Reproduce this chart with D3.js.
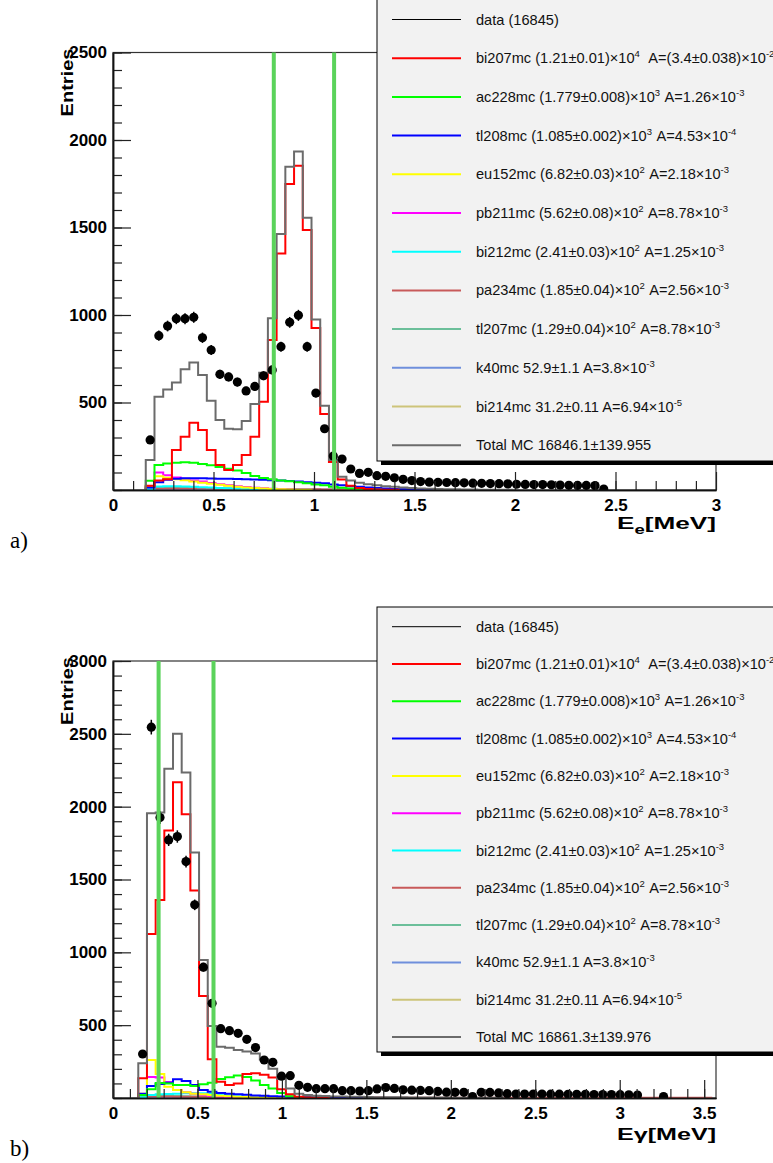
<!DOCTYPE html>
<html>
<head>
<meta charset="utf-8">
<script src="https://cdn.jsdelivr.net/npm/d3@7"></script>
<style>
  body { margin: 0; background: #fff; }
  svg { display: block; }
</style>
</head>
<body>
<svg id="chart" width="773" height="1163"></svg>
<script>
// ---- data ----
// binning of the two spectra (MeV)
var topEdge0 = 0.163, topBinW = 0.0434
var botEdge0 = 0.1497, botBinW = 0.0514

var seriesNames = ['bi207mc', 'ac228mc', 'tl208mc', 'eu152mc', 'pb211mc', 'bi212mc', 'pa234mc', 'tl207mc', 'k40mc', 'bi214mc']

var legendLabels = [
  'bi207mc (1.21±0.01)×10^4  A=(3.4±0.038)×10^-2',
  'ac228mc (1.779±0.008)×10^3 A=1.26×10^-3',
  'tl208mc (1.085±0.002)×10^3 A=4.53×10^-4',
  'eu152mc (6.82±0.03)×10^2 A=2.18×10^-3',
  'pb211mc (5.62±0.08)×10^2 A=8.78×10^-3',
  'bi212mc (2.41±0.03)×10^2 A=1.25×10^-3',
  'pa234mc (1.85±0.04)×10^2 A=2.56×10^-3',
  'tl207mc (1.29±0.04)×10^2 A=8.78×10^-3',
  'k40mc 52.9±1.1 A=3.8×10^-3',
  'bi214mc 31.2±0.11 A=6.94×10^-5'
]

// electron energy spectrum (a)
var topData = [286, 882, 937, 979, 979, 987, 870, 800, 661, 646, 617, 566, 592, 653, 686, 819, 958, 998, 819, 554, 350, 194, 177, 120, 95, 101, 82, 78, 70, 61, 54, 48, 45, 44, 43, 42, 41, 39, 38, 37, 36, 35, 33, 32, 31, 31, 30, 28, 27, 26, 26, 25, 5]
var topTotal = [171, 533, 575, 615, 690, 728, 657, 510, 400, 350, 347, 394, 491, 670, 981, 1463, 1847, 1935, 1556, 975, 482, 171, 76, 55, 42, 33, 27, 22, 18, 14, 11, 9, 7, 6, 5, 4, 3, 3, 2, 2, 1, 1]
var topBi207 = [25, 55, 62, 229, 305, 385, 343, 229, 143, 114, 143, 200, 305, 505, 857, 1352, 1749, 1853, 1486, 926, 434, 160, 60, 25, 12, 6, 3, 2, 1]
var topAc228 = [53, 143, 152, 156, 158, 156, 149, 141, 131, 122, 112, 97, 80, 68, 61, 55, 50, 44, 38, 32, 27, 19, 13, 8, 5, 3, 1]
var topTl208 = [15, 45, 58, 64, 67, 67, 67, 66, 65, 64, 63, 62, 60, 58, 56, 54, 51, 48, 45, 42, 38, 32, 27, 22, 18, 14, 11, 8, 6, 4, 3, 2, 1]
var topEu152 = [20, 78, 70, 62, 56, 48, 42, 36, 30, 24, 19, 15, 11, 8, 6, 4, 3, 2, 1]
var topPb211 = [20, 100, 85, 72, 65, 55, 48, 40, 33, 27, 22, 17, 13, 10, 7, 5, 3, 2, 1]
var topBi212 = [5, 20, 22, 22, 20, 18, 16, 14, 12, 10, 8, 7, 6, 5, 4, 3, 2, 2, 1]
var topPa234 = [3, 8, 9, 9, 9, 8, 8, 8, 7, 7, 7, 6, 6, 6, 5, 5, 5, 4, 4, 4, 3, 3, 3, 2, 2, 2, 2, 1, 1, 1]
var topTl207 = [5, 15, 15, 14, 13, 12, 11, 10, 9, 8, 7, 6, 5, 4, 3, 3, 2, 2, 1, 1]
var topK40 = [1, 4, 4, 4, 4, 4, 4, 4, 4, 4, 3, 3, 3, 3, 3, 3, 3, 3, 3, 3, 3, 3, 3, 2, 2, 2, 2, 2, 1, 1]
var topBi214 = [1, 2, 2, 2, 2, 2, 2, 2, 2, 2, 2, 2, 1, 1, 1, 1, 1, 1]

// gamma energy spectrum (b)
var botData = [302, 2546, 1925, 1772, 1795, 1623, 1326, 898, 650, 476, 462, 444, 403, 346, 261, 245, 150, 153, 87, 73, 64, 64, 64, 50, 50, 48, 50, 62, 72, 66, 56, 54, 52, 50, 45, 40, 39, 39, 10, 39, 38, 35, 30, 27, 27, 27, 27, 26, 26, 25, 25, 25, 24, 24, 24, 23, 22, 20, null, null, 10]
var botTotal = [238, 1955, 1960, 2260, 2500, 2234, 1685, 948, 494, 352, 345, 330, 320, 305, 265, 200, 130, 65, 30, 20, 16, 13, 11, 10, 9, 8, 7, 6, 6, 5, 5, 4, 4, 3, 3, 3, 2, 2, 2, 2, 1, 1]
var botBi207 = [135, 1126, 1360, 1836, 2168, 1948, 1424, 700, 266, 112, 89, 100, 165, 170, 160, 140, 60, 25, 8, 4, 2, 1]
var botAc228 = [20, 60, 103, 100, 89, 89, 82, 95, 105, 131, 143, 155, 145, 120, 90, 65, 35, 12, 4, 2, 1]
var botTl208 = [30, 82, 96, 105, 128, 117, 89, 55, 43, 35, 30, 25, 22, 18, 15, 12, 10, 8, 6, 5, 4, 3, 2, 2, 1, 1]
var botEu152 = [30, 261, 165, 78, 55, 40, 30, 25, 20, 15, 12, 9, 7, 5, 3, 2, 1]
var botPb211 = [20, 145, 140, 110, 55, 40, 30, 22, 15, 10, 6, 4, 2, 1]
var botBi212 = [5, 20, 25, 28, 30, 32, 33, 33, 30, 25, 18, 12, 8, 5, 3, 2, 1]
var botPa234 = [4, 10, 10, 10, 9, 9, 9, 8, 8, 8, 7, 7, 7, 6, 6, 6, 5, 5, 5, 4, 4, 4, 4, 3, 3, 3, 3, 3, 2, 2, 2, 2, 2, 2, 1, 1, 1, 1, 1, 1, 1, 1, 1, 1, 1, 1, 1, 1, 1, 1, 1, 1, 1, 1, 1, 1, 1, 1, 1, 1, 1, 1, 1, 1, 1, 1]
var botTl207 = [5, 18, 18, 16, 14, 12, 10, 8, 6, 5, 4, 3, 2, 1]
var botK40 = [1, 5, 5, 5, 5, 5, 5, 5, 4, 4, 4, 4, 4, 4, 4, 4, 3, 3, 3, 3, 3, 3, 3, 3, 3, 2, 2, 2, 2, 1]
var botBi214 = [1, 3, 3, 3, 3, 2, 2, 2, 2, 2, 2, 2, 1, 1, 1, 1]

var topCuts = [0.8, 1.1]
var botCuts = [0.27, 0.595]

var topYTicks = [500, 1000, 1500, 2000, 2500]
var botYTicks = [500, 1000, 1500, 2000, 2500, 3000]
var topXTicks = [0, 0.5, 1, 1.5, 2, 2.5, 3]
var botXTicks = [0, 0.5, 1, 1.5, 2, 2.5, 3, 3.5]

// ---- styles ----
var colors = ['#ff0000', '#00ff00', '#0000ff', '#ffff00', '#ff00ff', '#00ffff', '#c85a5a', '#6cbf9a', '#6f8fdc', '#cdc47a']
var totalColor = '#6b6b6b'
var cutColor = '#5bd35b'
var fontSans = '"Liberation Sans", Arial, Helvetica, sans-serif'

var svg = d3.select('#chart')

function drawPanel(p) {
    var x = d3.scaleLinear().domain([0, p.xMax]).range([113, 716])
    var y = d3.scaleLinear().domain([0, p.yMax]).range([p.bottom, p.top])
    var g = svg.append('g')

    var clipId = 'clip' + p.id
    svg.append('clipPath').attr('id', clipId)
        .append('rect').attr('x', 113).attr('y', p.top).attr('width', 603).attr('height', p.bottom - p.top)

    // frame
    g.append('rect')
        .attr('x', 113).attr('y', p.top)
        .attr('width', 603).attr('height', p.bottom - p.top)
        .attr('fill', 'none').attr('stroke', '#333').attr('stroke-width', 1.2)

    var edge = k => p.edge0 + k * p.binW
    var histLine = function(vals) {
        var pts = [[x(edge(0)), y(0)]]
        vals.forEach(function(v, k) {
            pts.push([x(edge(k)), y(v)])
            pts.push([x(edge(k + 1)), y(v)])
        })
        pts.push([x(edge(vals.length)), y(0)])
        return d3.line()(pts)
    }

    var hg = g.append('g').attr('clip-path', 'url(#' + clipId + ')')
    // small components first, bi207 last of the components
    var order = [9, 8, 7, 6, 5, 4, 3, 2, 1, 0]
    order.forEach(function(i) {
        hg.append('path')
            .attr('d', histLine(p.series[i]))
            .attr('fill', 'none')
            .attr('stroke', colors[i])
            .attr('stroke-width', 2)
    })
    hg.append('path')
        .attr('d', histLine(p.total))
        .attr('fill', 'none')
        .attr('stroke', totalColor)
        .attr('stroke-width', 2)

    // data points with sqrt(N) errors
    var pts = p.data.map((v, k) => ({k: k, v: v})).filter(d => d.v != null)
    var dg = g.append('g').attr('clip-path', 'url(#' + clipId + ')')
    dg.selectAll('line').data(pts).enter().append('line')
        .attr('x1', d => x(edge(d.k) + p.binW / 2))
        .attr('x2', d => x(edge(d.k) + p.binW / 2))
        .attr('y1', d => y(d.v + Math.sqrt(d.v)))
        .attr('y2', d => y(d.v - Math.sqrt(d.v)))
        .attr('stroke', '#000').attr('stroke-width', 1.5)
    dg.selectAll('circle').data(pts).enter().append('circle')
        .attr('cx', d => x(edge(d.k) + p.binW / 2))
        .attr('cy', d => y(d.v))
        .attr('r', 4.6)
        .attr('fill', '#000')

    // cut lines
    g.append('g').selectAll('line').data(p.cuts).enter().append('line')
        .attr('x1', d => x(d)).attr('x2', d => x(d))
        .attr('y1', p.top).attr('y2', p.bottom)
        .attr('stroke', cutColor).attr('stroke-width', 4)

    // axes, ROOT style ticks pointing inwards
    var yMinor = g.append('g').attr('transform', 'translate(113,0)')
        .call(d3.axisLeft(y).tickValues(d3.range(0, p.yMax + 1, 100)).tickSize(-9).tickSizeOuter(0).tickFormat(''))
    var yMajor = g.append('g').attr('transform', 'translate(113,0)')
        .call(d3.axisLeft(y).tickValues(p.yTicks).tickSize(-18).tickSizeOuter(0).tickPadding(6).tickFormat(d3.format('d')))
    var xMinor = g.append('g').attr('transform', `translate(0,${p.bottom})`)
        .call(d3.axisBottom(x).tickValues(d3.range(0, p.xMax, 0.1)).tickSize(-9).tickSizeOuter(0).tickFormat(''))
    var xMajor = g.append('g').attr('transform', `translate(0,${p.bottom})`)
        .call(d3.axisBottom(x).tickValues(p.xTicks).tickSize(-18).tickSizeOuter(0).tickPadding(9).tickFormat(d3.format('~g')))
    ;[yMinor, yMajor, xMinor, xMajor].forEach(function(a) {
        a.select('.domain').attr('stroke', '#111').attr('stroke-width', 1.5)
        a.selectAll('.tick line').attr('stroke', '#222').attr('stroke-width', 1.2)
        a.selectAll('text')
            .attr('font-family', fontSans)
            .attr('font-weight', 'bold')
            .attr('font-size', '17px')
            .attr('fill', '#000')
    })

    g.append('text')
        .attr('transform', `translate(73,${p.top - 4}) rotate(-90)`)
        .attr('text-anchor', 'end')
        .attr('font-family', fontSans).attr('font-weight', 'bold').attr('font-size', '16.5px')
        .attr('textLength', 68).attr('lengthAdjust', 'spacingAndGlyphs')
        .text('Entries')

    var xt = g.append('text')
        .attr('x', 716).attr('y', p.bottom + p.xTitleDy)
        .attr('text-anchor', 'end')
        .attr('font-family', fontSans).attr('font-weight', 'bold').attr('font-size', '17px')
        .attr('textLength', 99).attr('lengthAdjust', 'spacingAndGlyphs')
    xt.append('tspan').text('E')
    if (p.xSub) {
        xt.append('tspan').attr('dy', 5).attr('font-size', '12px').text(p.xSub)
        xt.append('tspan').attr('dy', -5).text('[MeV]')
    } else {
        xt.append('tspan').text(p.xSym + '[MeV]')
    }

    g.append('text')
        .attr('x', 10).attr('y', p.bottom + 58)
        .attr('font-family', '"Liberation Serif", "Times New Roman", serif')
        .attr('font-size', '23px')
        .text(p.tag)

    // legend
    var lg = g.append('g')
    lg.append('rect')
        .attr('x', 381).attr('y', p.legTop + 4).attr('width', 420).attr('height', p.legBottom - p.legTop)
        .attr('fill', '#000')
    lg.append('rect')
        .attr('x', 377).attr('y', p.legTop).attr('width', 420).attr('height', p.legBottom - p.legTop)
        .attr('fill', '#f2f2f2').attr('stroke', '#000').attr('stroke-width', 1)

    var entries = [{label: 'data (16845)', color: '#000', w: 1}]
    legendLabels.forEach((l, i) => entries.push({label: l, color: colors[i], w: 2}))
    entries.push({label: p.totalLabel, color: totalColor, w: 2})

    entries.forEach(function(e, i) {
        var cy = p.legRow0 + i * p.legStep
        lg.append('line')
            .attr('x1', 392).attr('x2', 461).attr('y1', cy).attr('y2', cy)
            .attr('stroke', e.color).attr('stroke-width', e.w)
        var t = lg.append('text')
            .attr('x', 476).attr('y', cy + 5)
            .style('white-space', 'pre')
            .attr('font-family', fontSans).attr('font-size', '14.6px').attr('fill', '#111')
        var parts = e.label.split(/\^(-?\d+)/)
        parts.forEach(function(s, j) {
            if (j % 2 === 0) {
                if (s.length) t.append('tspan').text(s)
            } else {
                t.append('tspan').attr('dy', -6).attr('font-size', '9.5px').text(s)
                t.append('tspan').attr('dy', 6).text('\u200a')
            }
        })
    })
}

drawPanel({
    id: 'a', top: 52.5, bottom: 490, xMax: 3.0, yMax: 2500,
    edge0: topEdge0, binW: topBinW,
    data: topData, total: topTotal,
    series: [topBi207, topAc228, topTl208, topEu152, topPb211, topBi212, topPa234, topTl207, topK40, topBi214],
    cuts: topCuts, yTicks: topYTicks, xTicks: topXTicks,
    xSub: 'e', xTitleDy: 39, tag: 'a)',
    legTop: -1, legBottom: 461, legRow0: 19.5, legStep: 38.7,
    totalLabel: 'Total MC 16846.1±139.955'
})

drawPanel({
    id: 'b', top: 661, bottom: 1098, xMax: 3.57, yMax: 3000,
    edge0: botEdge0, binW: botBinW,
    data: botData, total: botTotal,
    series: [botBi207, botAc228, botTl208, botEu152, botPb211, botBi212, botPa234, botTl207, botK40, botBi214],
    cuts: botCuts, yTicks: botYTicks, xTicks: botXTicks,
    xSym: 'γ', xTitleDy: 42, tag: 'b)',
    legTop: 607, legBottom: 1052, legRow0: 626.7, legStep: 37.3,
    totalLabel: 'Total MC 16861.3±139.976'
})
</script>
</body>
</html>
